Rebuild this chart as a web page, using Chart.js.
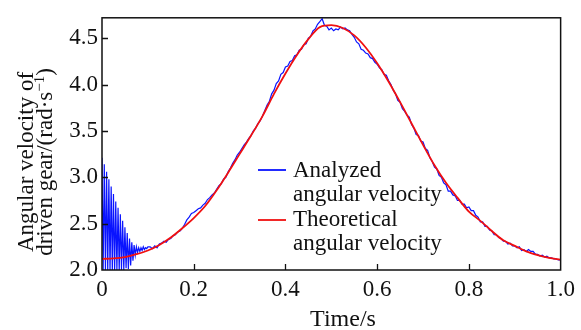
<!DOCTYPE html>
<html>
<head>
<meta charset="utf-8">
<script src="https://cdn.jsdelivr.net/npm/chart.js@4/dist/chart.umd.min.js"></script>
<style>
html,body{margin:0;padding:0;background:#fff}
</style>
</head>
<body>
<canvas id="chart" width="581" height="330"></canvas>
<script>
// series names (legend, two lines each)
const seriesNames = [["Analyzed", "angular velocity"], ["Theoretical", "angular velocity"]]
const seriesColors = ["#0a14ff", "#f01010"]

// axis ticks
const xTickValues = [0, 0.2, 0.4, 0.6, 0.8, 1.0]
const xTickLabels = ["0", "0.2", "0.4", "0.6", "0.8", "1.0"]
const yTickValues = [2.0, 2.5, 3.0, 3.5, 4.0, 4.5]
const xTitle = "Time/s"
const yTitle = ["Angular velocity of", "driven gear/(rad\u00b7s", "\u22121", ")"]

// theoretical angular velocity, t = 0 .. 1.0 every 0.025 s
const theoryStep = 0.025
const theoryOmega = [
2.12, 2.125, 2.14, 2.17, 2.21, 2.27, 2.35, 2.45, 2.56, 2.69,
2.86, 3.05, 3.25, 3.45, 3.66, 3.90, 4.12, 4.32, 4.49, 4.62,
4.64, 4.61, 4.53, 4.40, 4.23, 4.03, 3.81, 3.58, 3.35, 3.13,
2.94, 2.78, 2.63, 2.53, 2.42, 2.32, 2.26, 2.20, 2.16, 2.13,
2.11
]

// analyzed angular velocity, start-up ringing, t = 0 .. 0.1 every 0.0025 s
const startupStep = 0.0025
const startupOmega = [
3.21, 1.98, 3.14, 1.98, 3.06, 1.99, 2.98, 1.98, 2.90, 1.99,
2.82, 1.98, 2.74, 2.00, 2.67, 1.99, 2.60, 2.00, 2.53, 2.00,
2.46, 2.02, 2.40, 2.01, 2.34, 2.05, 2.30, 2.10, 2.27, 2.16,
2.25, 2.19, 2.24, 2.20, 2.24, 2.21, 2.25, 2.22, 2.24, 2.23,
2.25
]

// analyzed angular velocity, t = 0.105 .. 1.0 every 0.005 s
const analyzedStart = 0.105
const analyzedStep = 0.005
const analyzedOmega = [
2.25, 2.23, 2.26, 2.24, 2.28, 2.29, 2.31, 2.30, 2.33, 2.34,
2.37, 2.38, 2.41, 2.42, 2.45, 2.49, 2.54, 2.57, 2.61, 2.62,
2.64, 2.66, 2.67, 2.70, 2.72, 2.76, 2.78, 2.81, 2.83, 2.87,
2.91, 2.93, 2.98, 3.00, 3.06, 3.10, 3.15, 3.19, 3.24, 3.27,
3.31, 3.35, 3.38, 3.42, 3.45, 3.50, 3.53, 3.58, 3.61, 3.66,
3.72, 3.78, 3.82, 3.90, 3.94, 4.01, 4.04, 4.11, 4.13, 4.19,
4.20, 4.25, 4.26, 4.31, 4.32, 4.37, 4.38, 4.43, 4.44, 4.50,
4.52, 4.58, 4.60, 4.65, 4.68, 4.71, 4.64, 4.63, 4.59, 4.61,
4.58, 4.60, 4.59, 4.62, 4.60, 4.61, 4.59, 4.58, 4.54, 4.51,
4.46, 4.44, 4.38, 4.37, 4.34, 4.33, 4.29, 4.28, 4.24, 4.22,
4.18, 4.16, 4.11, 4.10, 4.04, 4.00, 3.94, 3.90, 3.83, 3.81,
3.74, 3.71, 3.67, 3.65, 3.57, 3.53, 3.46, 3.45, 3.39, 3.38,
3.31, 3.29, 3.21, 3.17, 3.11, 3.09, 3.02, 3.00, 2.94, 2.92,
2.85, 2.85, 2.81, 2.80, 2.75, 2.75, 2.71, 2.71, 2.67, 2.68,
2.64, 2.64, 2.59, 2.57, 2.52, 2.52, 2.47, 2.47, 2.43, 2.42,
2.38, 2.38, 2.35, 2.34, 2.31, 2.31, 2.28, 2.29, 2.26, 2.26,
2.24, 2.25, 2.21, 2.22, 2.20, 2.22, 2.20, 2.20, 2.17, 2.17,
2.15, 2.16, 2.14, 2.15, 2.13, 2.13, 2.12, 2.12, 2.11, 2.11
]

const serif = "\"Liberation Serif\", \"DejaVu Serif\", serif"

const theoryPoints = theoryOmega.map((v, i) => ({x: i * theoryStep, y: v}))
const analyzedPoints = startupOmega.map((v, i) => ({x: i * startupStep, y: v}))
  .concat(analyzedOmega.map((v, i) => ({x: analyzedStart + i * analyzedStep, y: v})))

const framePlugin = {
  id: "frame",
  afterDatasetsDraw(chart) {
    const ctx = chart.ctx
    const a = chart.chartArea
    const xs = chart.scales.x
    const ys = chart.scales.y
    ctx.save()
    ctx.strokeStyle = "#111"
    ctx.lineWidth = 1.5
    ctx.strokeRect(a.left, a.top, a.right - a.left, a.bottom - a.top)
    // inward ticks
    ctx.lineWidth = 1.3
    ctx.beginPath()
    xTickValues.slice(1, -1).forEach(v => {
      const px = Math.round(xs.getPixelForValue(v)) + 0.5
      ctx.moveTo(px, a.bottom)
      ctx.lineTo(px, a.bottom - 6)
    })
    yTickValues.slice(1).forEach(v => {
      const py = Math.round(ys.getPixelForValue(v)) + 0.5
      ctx.moveTo(a.left, py)
      ctx.lineTo(a.left + 6, py)
    })
    ctx.stroke()
    ctx.restore()
  },
  afterDraw(chart) {
    const ctx = chart.ctx
    ctx.save()
    ctx.fillStyle = "#111"
    ctx.font = "23px " + serif
    ctx.textBaseline = "alphabetic"

    // legend
    const lineY = [170, 220]
    const textY = [[177, 201], [226, 250]]
    seriesNames.forEach((lines, i) => {
      ctx.strokeStyle = seriesColors[i]
      ctx.lineWidth = 1.8
      ctx.beginPath()
      ctx.moveTo(258, lineY[i])
      ctx.lineTo(286, lineY[i])
      ctx.stroke()
      ctx.textAlign = "left"
      lines.forEach((t, j) => ctx.fillText(t, 293, textY[i][j]))
    })

    // x axis title
    ctx.font = "24px " + serif
    ctx.textAlign = "center"
    ctx.fillText(xTitle, 343, 326)

    // y axis title, rotated
    ctx.font = "23px " + serif
    ctx.translate(0, 162)
    ctx.rotate(-Math.PI / 2)
    ctx.textAlign = "center"
    ctx.fillText(yTitle[0], 0, 33)
    const supFont = "15px " + serif
    const w1 = ctx.measureText(yTitle[1]).width
    const w3 = ctx.measureText(yTitle[3]).width
    ctx.font = supFont
    const w2 = ctx.measureText(yTitle[2]).width
    const total = w1 + w2 + w3
    let x0 = -total / 2
    ctx.textAlign = "left"
    ctx.font = "23px " + serif
    ctx.fillText(yTitle[1], x0, 52)
    ctx.font = supFont
    ctx.fillText(yTitle[2], x0 + w1, 44)
    ctx.font = "23px " + serif
    ctx.fillText(yTitle[3], x0 + w1 + w2, 52)
    ctx.restore()
  }
}

function drawChart() {
  new Chart(document.getElementById("chart"), {
    type: "line",
    data: {
      datasets: [
        {
          label: seriesNames[0].join(" "),
          data: analyzedPoints,
          borderColor: seriesColors[0],
          borderWidth: 1.2,
          pointRadius: 0,
          tension: 0,
          order: 1
        },
        {
          label: seriesNames[1].join(" "),
          data: theoryPoints,
          borderColor: seriesColors[1],
          borderWidth: 1.8,
          pointRadius: 0,
          cubicInterpolationMode: "monotone",
          order: 0
        }
      ]
    },
    options: {
      responsive: false,
      animation: false,
      layout: {padding: {top: 12, right: 13, left: 0, bottom: 0}},
      plugins: {
        legend: {display: false},
        tooltip: {enabled: false}
      },
      scales: {
        x: {
          type: "linear",
          min: 0,
          max: 1,
          afterBuildTicks: s => { s.ticks = xTickValues.map(v => ({value: v})) },
          afterFit: s => { s.height = 60 },
          ticks: {
            color: "#111",
            font: {family: serif, size: 23},
            padding: 6,
            maxRotation: 0,
            callback: (v, i) => xTickLabels[i]
          },
          grid: {display: true, drawOnChartArea: false, drawTicks: false},
          border: {display: false}
        },
        y: {
          min: 2.0,
          max: 4.72,
          afterBuildTicks: s => { s.ticks = yTickValues.map(v => ({value: v})) },
          afterFit: s => { s.width = 102 },
          ticks: {
            color: "#111",
            font: {family: serif, size: 23},
            padding: 4,
            callback: v => v.toFixed(1)
          },
          grid: {display: true, drawOnChartArea: false, drawTicks: false},
          border: {display: false}
        }
      }
    },
    plugins: [framePlugin]
  })
}

document.fonts.load("23px \"Liberation Serif\"").then(drawChart, drawChart)
</script>
</body>
</html>
